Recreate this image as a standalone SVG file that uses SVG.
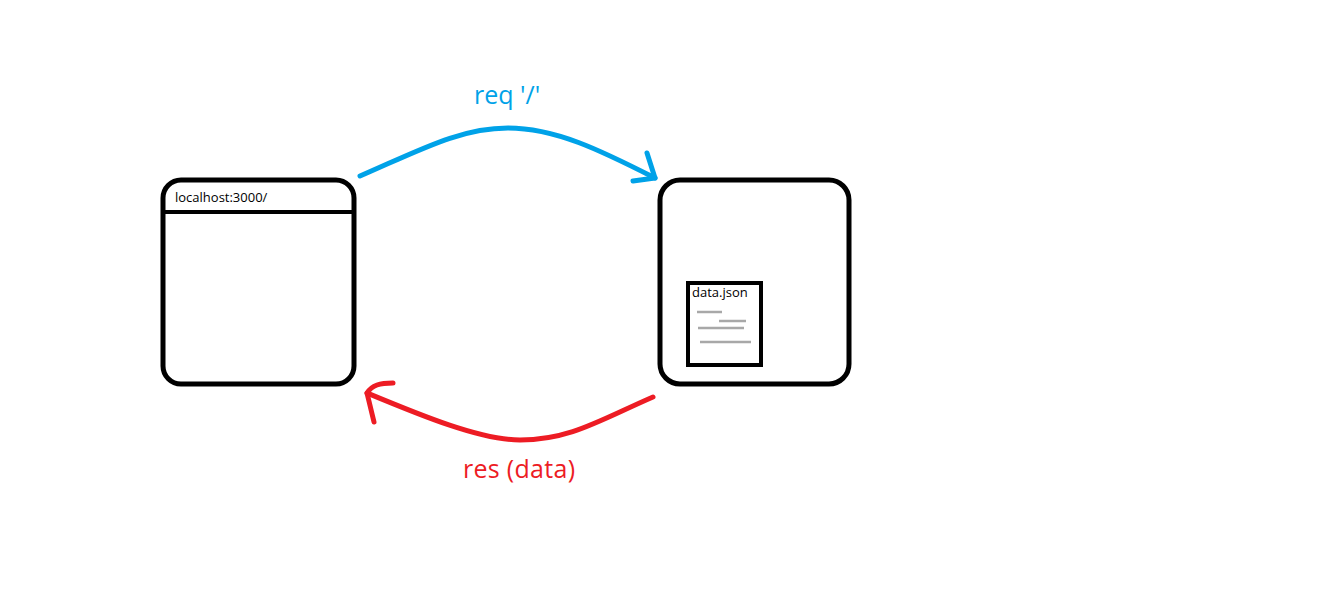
<svg xmlns="http://www.w3.org/2000/svg" width="1331" height="614" viewBox="0 0 1331 614">
<style>
.box{fill:none;stroke:#000;stroke-width:5}
.lbl{font-family:"Open Sans","Noto Sans",sans-serif;}
.blue{fill:none;stroke:#00A2E8;stroke-width:5;stroke-linecap:round;stroke-linejoin:round}
.red{fill:none;stroke:#ED1C24;stroke-width:5;stroke-linecap:round;stroke-linejoin:round}
.scr{stroke:#a8a8a8;stroke-width:2.5}
</style>
<rect width="1331" height="614" fill="#fff"/>
<g id="browser">
<rect class="box" x="163" y="180" width="191" height="204" rx="18"/>
<line x1="163" y1="212" x2="356" y2="212" stroke="#000" stroke-width="4"/>
<text class="lbl" x="175" y="202" font-size="13" fill="#000">localhost:3000/</text>
</g>
<g id="server">
<rect class="box" x="660" y="180" width="189" height="204" rx="20"/>
<g id="datajson">
<rect x="688" y="283" width="73" height="82" fill="#fff" stroke="#000" stroke-width="4"/>
<text class="lbl" x="692" y="297" font-size="13" fill="#000">data.json</text>
<line class="scr" x1="697" y1="312" x2="722" y2="312"/>
<line class="scr" x1="719" y1="321" x2="746" y2="321"/>
<line class="scr" x1="698" y1="328" x2="744" y2="328"/>
<line class="scr" x1="700" y1="342" x2="751" y2="342"/>
</g>
</g>
<g id="connectors">
<path class="blue" d="M360,176 C420,150 460,128 508,128 C555,128 600,150 655,178"/>
<path class="blue" d="M647,153 L655,178 L633,181"/>
<text class="lbl" x="474" y="104" font-size="25" fill="#00A2E8">req '/'</text>
<path class="red" d="M653,397 C600,420 570,440 520,440 C480,440 420,415 367,393"/>
<path class="red" d="M393,383 C380,383 372,385 367,393 L374,422"/>
<text class="lbl" x="463" y="478" font-size="25" fill="#ED1C24" textLength="112">res (data)</text>
</g>
</svg>
